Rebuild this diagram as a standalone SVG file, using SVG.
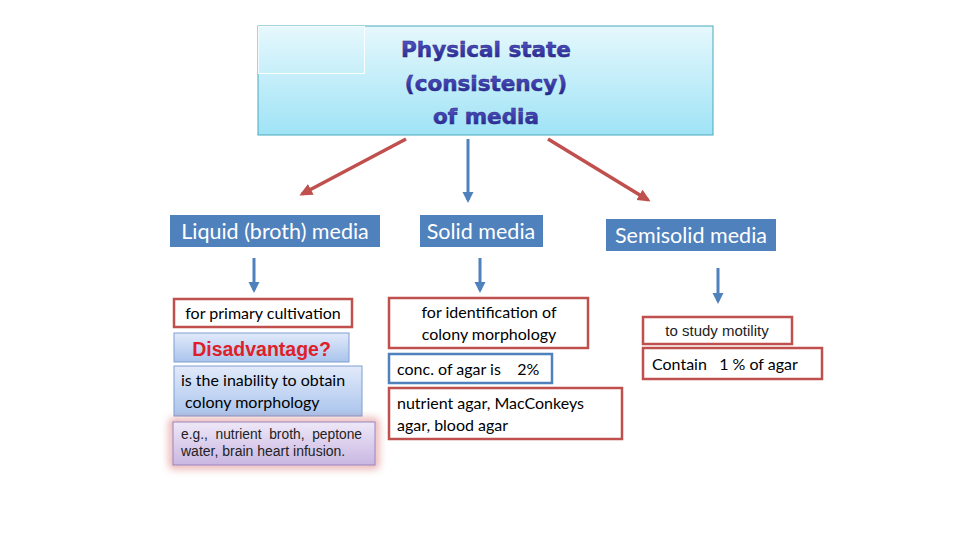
<svg xmlns="http://www.w3.org/2000/svg" width="960" height="540" viewBox="0 0 960 540">
<defs>
<linearGradient id="gTitle" x1="0" y1="0" x2="0" y2="1"><stop offset="0" stop-color="#e6f8fd"/><stop offset="1" stop-color="#9fe3f6"/></linearGradient>
<linearGradient id="gTitleTxt" x1="0" y1="0" x2="0" y2="1"><stop offset="0" stop-color="#5a5ad0"/><stop offset="1" stop-color="#22228a"/></linearGradient>
<linearGradient id="gBlue" x1="0" y1="0" x2="0" y2="1"><stop offset="0" stop-color="#e2eafa"/><stop offset="1" stop-color="#a9c4ec"/></linearGradient>
<linearGradient id="gLav" x1="0" y1="0" x2="0" y2="1"><stop offset="0" stop-color="#eee8f8"/><stop offset="1" stop-color="#c9b6e2"/></linearGradient>
<filter id="glow" x="-20%" y="-30%" width="140%" height="160%"><feGaussianBlur stdDeviation="4"/></filter>
<marker id="ahR" markerWidth="14" markerHeight="14" refX="10" refY="7" orient="auto" markerUnits="userSpaceOnUse"><path d="M0,1 L13,7 L0,13 z" fill="#c0504d"/></marker>
<marker id="ahB" markerWidth="12" markerHeight="12" refX="8" refY="6" orient="auto" markerUnits="userSpaceOnUse"><path d="M0,0.5 L11,6 L0,11.5 z" fill="#4f81bd"/></marker>
</defs>
<style>
.hdr{fill:#4f81bd}
.hdrT{font-family:Lato,"Open Sans",sans-serif;font-size:21.5px;fill:#fff}
.rbox{fill:#fff;stroke:#c0504d;stroke-width:2.5}
.bbox{fill:#fff;stroke:#4f81bd;stroke-width:2.5}
.t{font-family:Lato,"Open Sans",sans-serif;font-size:16px;fill:#000}
.a{font-family:"Liberation Sans",Arial,sans-serif;fill:#222}
.title{font-family:"DejaVu Sans",Verdana,sans-serif;font-weight:bold;font-size:21.5px;fill:url(#gTitleTxt);stroke:#2a2a80;stroke-width:0.5}
.lr{stroke:#c0504d;stroke-width:3.5;fill:none}
.lb{stroke:#4f81bd;stroke-width:3;fill:none}
</style>
<rect width="960" height="540" fill="#fff"/>
<g id="title">
<rect x="258" y="26" width="455" height="109" fill="url(#gTitle)" stroke="#4aa9bb" stroke-width="1"/>
<rect x="258.5" y="26.5" width="106" height="47" fill="none" stroke="#ffffff" stroke-width="1" opacity="0.9"/>
<text class="title" x="486" y="57" text-anchor="middle">Physical state</text>
<text class="title" x="486" y="91" text-anchor="middle">(consistency)</text>
<text class="title" x="486" y="124" text-anchor="middle">of media</text>
</g>
<g id="connectors">
<line class="lr" x1="406" y1="139" x2="302" y2="194" marker-end="url(#ahR)"/>
<line class="lb" x1="468" y1="139" x2="468" y2="200" marker-end="url(#ahB)"/>
<line class="lr" x1="548" y1="139" x2="648" y2="200" marker-end="url(#ahR)"/>
<line class="lb" x1="254" y1="258" x2="254" y2="290" marker-end="url(#ahB)"/>
<line class="lb" x1="480" y1="258" x2="480" y2="290" marker-end="url(#ahB)"/>
<line class="lb" x1="718" y1="268" x2="718" y2="301" marker-end="url(#ahB)"/>
</g>
<g id="liquid">
<rect class="hdr" x="170" y="215" width="210" height="32"/>
<text class="hdrT" x="275" y="238.5" text-anchor="middle">Liquid (broth) media</text>
</g>
<g id="solid">
<rect class="hdr" x="420" y="215" width="123" height="32"/>
<text class="hdrT" x="481" y="238.5" text-anchor="middle">Solid media</text>
</g>
<g id="semisolid">
<rect class="hdr" x="606" y="219" width="170" height="32"/>
<text class="hdrT" x="691" y="242.5" text-anchor="middle">Semisolid media</text>
</g>
<g id="primary">
<rect class="rbox" x="174" y="299" width="178" height="28"/>
<text class="t" x="263" y="318.5" text-anchor="middle">for primary cultivation</text>
</g>
<g id="disadvantage">
<rect x="174" y="333" width="175" height="29" fill="url(#gBlue)" stroke="#7f9fd0" stroke-width="1"/>
<text class="a" x="261.5" y="355.5" text-anchor="middle" font-size="19.5" font-weight="bold" style="fill:#de1f2a">Disadvantage?</text>
</g>
<g id="inability">
<rect x="174" y="366" width="188" height="50" fill="url(#gBlue)" stroke="#7f9fd0" stroke-width="1"/>
<text class="t" x="181" y="386">is the inability to obtain</text>
<text class="t" x="181" y="408" xml:space="preserve"> colony morphology</text>
</g>
<g id="examples">
<rect x="173" y="422" width="202" height="43" fill="none" stroke="#d05050" stroke-width="6" opacity="0.6" filter="url(#glow)"/>
<rect x="173" y="422" width="202" height="43" fill="url(#gLav)" stroke="#9a86c0" stroke-width="1"/>
<text class="a" x="181" y="439" font-size="13.8" xml:space="preserve">e.g.,  nutrient  broth,  peptone</text>
<text class="a" x="181" y="456" font-size="14">water, brain heart infusion.</text>
</g>
<g id="identification">
<rect class="rbox" x="389" y="298" width="199" height="50"/>
<text class="t" x="489" y="318" text-anchor="middle">for identification of</text>
<text class="t" x="489" y="340" text-anchor="middle">colony morphology</text>
</g>
<g id="conc">
<rect class="bbox" x="389" y="354" width="163" height="29"/>
<text class="t" x="397" y="374.5" xml:space="preserve">conc. of agar is    2%</text>
</g>
<g id="solidExamples">
<rect class="rbox" x="389" y="388" width="233" height="51"/>
<text class="t" x="397" y="409">nutrient agar, MacConkeys</text>
<text class="t" x="397" y="431">agar, blood agar</text>
</g>
<g id="motility">
<rect class="rbox" x="643" y="317" width="149" height="27"/>
<text class="a" x="717" y="336" text-anchor="middle" font-size="15">to study motility</text>
</g>
<g id="contain">
<rect class="rbox" x="643" y="348" width="179" height="31"/>
<text class="t" x="652" y="369.5" xml:space="preserve">Contain   1 % of agar</text>
</g>
</svg>
